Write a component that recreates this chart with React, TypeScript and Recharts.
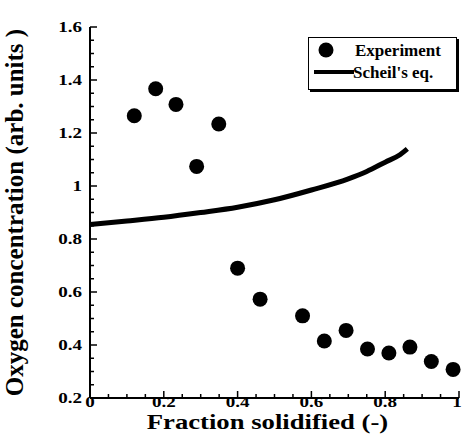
import React from "react";
import {
  ComposedChart,
  Scatter,
  Line,
  XAxis,
  YAxis,
} from "recharts";

// Measured oxygen content vs. fraction solidified
const expFraction = [0.12, 0.178, 0.233, 0.289, 0.349, 0.4, 0.461, 0.576, 0.635, 0.694, 0.752, 0.81, 0.867, 0.925, 0.984];
const expOxygen = [1.265, 1.367, 1.308, 1.074, 1.234, 0.69, 0.573, 0.51, 0.415, 0.455, 0.385, 0.37, 0.392, 0.338, 0.308];

// Scheil prediction
const scheilFraction = [0, 0.1, 0.2, 0.3, 0.4, 0.5, 0.6, 0.7, 0.75, 0.8, 0.84, 0.86];
const scheilOxygen = [0.855, 0.868, 0.882, 0.9, 0.92, 0.948, 0.985, 1.027, 1.055, 1.09, 1.118, 1.14];

const xMajor = [0, 0.2, 0.4, 0.6, 0.8, 1];
const yMajor = [0.2, 0.4, 0.6, 0.8, 1, 1.2, 1.4, 1.6];
const xTicks = [0, 0.05, 0.1, 0.15, 0.2, 0.25, 0.3, 0.35, 0.4, 0.45, 0.5, 0.55, 0.6, 0.65, 0.7, 0.75, 0.8, 0.85, 0.9, 0.95, 1];
const yTicks = [0.2, 0.25, 0.3, 0.35, 0.4, 0.45, 0.5, 0.55, 0.6, 0.65, 0.7, 0.75, 0.8, 0.85, 0.9, 0.95, 1, 1.05, 1.1, 1.15, 1.2, 1.25, 1.3, 1.35, 1.4, 1.45, 1.5, 1.55, 1.6];

const experiment = expFraction.map((f, i) => ({ f, c: expOxygen[i] }));
const scheil = scheilFraction.map((f, i) => ({ f, c: scheilOxygen[i] }));

const FONT = "'Liberation Serif', 'Times New Roman', serif";
const MAJOR = 7;
const MINOR = 4;
// labels are set in a wide bold serif
const WIDE = 1.27;

const isMajor = (v: number, list: number[]) => list.some((m) => Math.abs(m - v) < 1e-6);
const fmt = (v: number) => (Number.isInteger(v) ? String(v) : v.toFixed(1));

function WideText({ x, y, anchor, size, children }: any) {
  return (
    <g transform={`translate(${x} ${y}) scale(${WIDE} 1)`}>
      <text x={0} y={0} textAnchor={anchor} fontFamily={FONT} fontWeight="bold" fontSize={size} fill="#000">
        {children}
      </text>
    </g>
  );
}

function BottomTick({ x, y, payload }: any) {
  const major = isMajor(payload.value, xMajor);
  return (
    <g>
      <line x1={x} x2={x} y1={y} y2={y - (major ? MAJOR : MINOR)} stroke="#000" strokeWidth={1.5} />
      {major && (
        <WideText x={payload.value === 1 ? x - 2 : x} y={y + 9} anchor="middle" size={15}>
          {fmt(payload.value)}
        </WideText>
      )}
    </g>
  );
}

function TopTick({ x, y, payload }: any) {
  const major = isMajor(payload.value, xMajor);
  return <line x1={x} x2={x} y1={y} y2={y + (major ? MAJOR : MINOR)} stroke="#000" strokeWidth={1.5} />;
}

function LeftTick({ x, y, payload }: any) {
  const major = isMajor(payload.value, yMajor);
  return (
    <g>
      <line x1={x} x2={x + (major ? MAJOR : MINOR)} y1={y} y2={y} stroke="#000" strokeWidth={1.5} />
      {major && (
        <WideText x={x - 8} y={y + 5} anchor="end" size={15}>
          {fmt(payload.value)}
        </WideText>
      )}
    </g>
  );
}

function RightTick({ x, y, payload }: any) {
  const major = isMajor(payload.value, yMajor);
  return <line x1={x} x2={x - (major ? MAJOR : MINOR)} y1={y} y2={y} stroke="#000" strokeWidth={1.5} />;
}

function Dot({ cx, cy }: any) {
  return <circle cx={cx} cy={cy} r={7.5} fill="#000" />;
}

function LegendBox() {
  return (
    <div
      style={{
        position: "absolute",
        left: 308,
        top: 37,
        width: 147,
        height: 51,
        border: "1.5px solid #000",
        boxShadow: "2px 2px 0 #000",
        background: "#fff",
      }}
    >
      <svg width={147} height={51} style={{ position: "absolute", left: 0, top: 0 }}>
        <circle cx={17} cy={12} r={7.5} fill="#000" />
        <text x={46} y={18} fontFamily={FONT} fontWeight="bold" fontSize={17}>Experiment</text>
        <line x1={5} x2={45} y1={34} y2={34} stroke="#000" strokeWidth={4} />
        <text x={44} y={40} fontFamily={FONT} fontWeight="bold" fontSize={17}>Scheil's eq.</text>
      </svg>
    </div>
  );
}

export default function App() {
  return (
    <div style={{ position: "absolute", left: 0, top: 0, width: 462, height: 448, background: "#fff" }}>
      <ComposedChart width={462} height={448} margin={{ top: 27, right: 3, bottom: 0, left: 0 }}>
        <XAxis
          xAxisId="b"
          dataKey="f"
          type="number"
          domain={[0, 1]}
          ticks={xTicks}
          interval={0}
          height={50}
          tickSize={0}
          tickMargin={0}
          tickLine={false}
          axisLine={{ stroke: "#000", strokeWidth: 2 }}
          tick={<BottomTick />}
          label={{
            content: ({ viewBox }: any) => (
              <WideText x={viewBox.x + viewBox.width / 2 - 7} y={viewBox.y + 31} anchor="middle" size={21}>
                Fraction solidified (-)
              </WideText>
            ),
          }}
        />
        <XAxis
          xAxisId="t"
          orientation="top"
          dataKey="f"
          type="number"
          domain={[0, 1]}
          ticks={xTicks}
          interval={0}
          height={0}
          tickSize={0}
          tickMargin={0}
          tickLine={false}
          axisLine={{ stroke: "#000", strokeWidth: 2 }}
          tick={<TopTick />}
        />
        <YAxis
          yAxisId="l"
          dataKey="c"
          type="number"
          domain={[0.2, 1.6]}
          ticks={yTicks}
          interval={0}
          width={90}
          tickSize={0}
          tickMargin={0}
          tickLine={false}
          axisLine={{ stroke: "#000", strokeWidth: 2 }}
          tick={<LeftTick />}
          label={{
            content: ({ viewBox }: any) => {
              const cy = viewBox.y + viewBox.height / 2;
              return (
                <text
                  x={23}
                  y={cy}
                  transform={`rotate(-90 23 ${cy})`}
                  textAnchor="middle"
                  fontFamily={FONT}
                  fontWeight="bold"
                  fontSize={25}
                >
                  Oxygen concentration (arb. units )
                </text>
              );
            },
          }}
        />
        <YAxis
          yAxisId="r"
          orientation="right"
          dataKey="c"
          type="number"
          domain={[0.2, 1.6]}
          ticks={yTicks}
          interval={0}
          width={0}
          tickSize={0}
          tickMargin={0}
          tickLine={false}
          axisLine={{ stroke: "#000", strokeWidth: 2 }}
          tick={<RightTick />}
        />
        <Line
          xAxisId="b"
          yAxisId="l"
          data={scheil}
          dataKey="c"
          type="monotone"
          stroke="#000"
          strokeWidth={5}
          dot={false}
          activeDot={false}
          isAnimationActive={false}
        />
        <Scatter
          xAxisId="b"
          yAxisId="l"
          data={experiment}
          dataKey="c"
          fill="#000"
          shape={<Dot />}
          isAnimationActive={false}
        />
      </ComposedChart>
      <LegendBox />
    </div>
  );
}
